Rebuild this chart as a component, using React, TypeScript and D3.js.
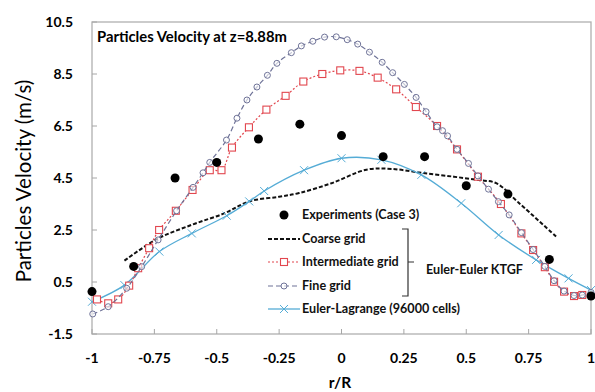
import React from 'react';
import * as d3 from 'd3';

// experiments (Case 3)
const expR = [-1, -0.833, -0.667, -0.5, -0.333, -0.167, 0, 0.167, 0.333, 0.5, 0.667, 0.833, 1];
const expV = [0.13, 1.1, 4.5, 5.1, 6.0, 6.57, 6.13, 5.32, 5.32, 4.2, 3.88, 1.37, -0.04];

// coarse grid (no markers)
const coarseR = [-0.87, -0.74, -0.6, -0.47, -0.37, -0.25, -0.17, -0.04, 0.1, 0.2, 0.32, 0.45, 0.55, 0.62, 0.71, 0.86];
const coarseV = [1.32, 2.15, 2.7, 3.14, 3.6, 3.78, 3.92, 4.3, 4.82, 4.85, 4.7, 4.55, 4.42, 4.3, 3.55, 2.25];

// intermediate grid
const interR = [-0.98, -0.935, -0.895, -0.851, -0.815, -0.771, -0.731, -0.664, -0.597, -0.528, -0.481, -0.439, -0.371,
  -0.301, -0.224, -0.153, -0.077, -0.005, 0.072, 0.145, 0.219, 0.298, 0.383, 0.463, 0.547, 0.639, 0.721, 0.768,
  0.815, 0.852, 0.892, 0.932, 0.965];
const interV = [-0.17, -0.32, -0.17, 0.36, 1.03, 1.8, 2.5, 3.24, 4.04, 4.8, 4.8, 5.67, 6.45,
  7.13, 7.66, 8.21, 8.5, 8.64, 8.62, 8.36, 7.91, 7.23, 6.5, 5.6, 4.55, 3.5, 2.37, 1.73,
  1.07, 0.51, 0.13, -0.04, 0.0];

// fine grid
const fineR = [-0.997, -0.935, -0.861, -0.801, -0.735, -0.661, -0.595, -0.555, -0.528, -0.461, -0.419, -0.379, -0.339,
  -0.297, -0.259, -0.201, -0.161, -0.115, -0.068, -0.021, 0.023, 0.065, 0.112, 0.163, 0.205, 0.252, 0.299, 0.339,
  0.383, 0.405, 0.425, 0.463, 0.509, 0.547, 0.589, 0.629, 0.672, 0.721, 0.768, 0.815, 0.852, 0.892, 0.932, 0.965, 1.0];
const fineV = [-0.73, -0.45, 0.26, 1.09, 2.12, 3.24, 4.14, 4.7, 5.1, 5.96, 6.8, 7.5, 8.0,
  8.45, 8.91, 9.32, 9.58, 9.76, 9.92, 9.93, 9.82, 9.65, 9.34, 8.95, 8.55, 8.1, 7.6, 7.05,
  6.47, 6.32, 6.12, 5.6, 5.06, 4.58, 4.07, 3.59, 3.08, 2.4, 1.75, 1.1, 0.55, 0.15, -0.02, 0.0, 0.1];

// Euler-Lagrange (96000 cells)
const elR = [-1, -0.87, -0.73, -0.6, -0.46, -0.37, -0.31, -0.15, 0, 0.16, 0.32, 0.48, 0.63, 0.78, 0.91, 1];
const elV = [-0.26, 0.38, 1.67, 2.37, 3.05, 3.6, 4.0, 4.8, 5.26, 5.2, 4.62, 3.53, 2.31, 1.35, 0.64, 0.19];

const xTicks = [-1, -0.75, -0.5, -0.25, 0, 0.25, 0.5, 0.75, 1];
const yTicks = [-1.5, 0.5, 2.5, 4.5, 6.5, 8.5, 10.5];

const FONT = 'Lato, "Open Sans", sans-serif';
const RED = '#e2474f';
const FINE = '#6f7398';
const BLUE = '#55acd6';

const zip = (xs: number[], ys: number[]) => xs.map((x, i) => [x, ys[i]] as [number, number]);

export default function App() {
  const x = d3.scaleLinear().domain([-1, 1]).range([92, 591]);
  const y = d3.scaleLinear().domain([-1.5, 10.5]).range([334, 22]);
  const line = d3.line<[number, number]>().x(d => x(d[0])).y(d => y(d[1])).curve(d3.curveCatmullRom);

  const inter = zip(interR, interV);
  const fine = zip(fineR, fineV);
  const el = zip(elR, elV);
  const exp = zip(expR, expV);

  const sq = (cx: number, cy: number, k: string) => (
    <rect key={k} x={cx - 3.5} y={cy - 3.5} width={7} height={7} fill="white" stroke={RED} strokeWidth={1.1} />
  );
  const circ = (cx: number, cy: number, k: string) => (
    <circle key={k} cx={cx} cy={cy} r={3} fill="white" fillOpacity={0.6} stroke={FINE} strokeWidth={1} />
  );
  const cross = (cx: number, cy: number, k: string) => (
    <path key={k} d={`M${cx - 4},${cy - 4}L${cx + 4},${cy + 4}M${cx - 4},${cy + 4}L${cx + 4},${cy - 4}`} stroke={BLUE} strokeWidth={1} />
  );

  return (
    <svg width={595} height={392} style={{ position: 'absolute', left: 0, top: 0, background: 'white' }}>
      <rect x={92} y={22} width={499} height={312} fill="white" stroke="#b0b0b0" strokeWidth={1.3} />
      {yTicks.map(t => (
        <g key={'y' + t}>
          <line x1={92} x2={97} y1={y(t)} y2={y(t)} stroke="#a6a6a6" />
          <text x={73} y={y(t)} dy="0.35em" textAnchor="end" fontFamily={FONT} fontWeight="bold" fontSize={14}>{t}</text>
        </g>
      ))}
      {xTicks.map(t => (
        <g key={'x' + t}>
          <line x1={x(t)} x2={x(t)} y1={334} y2={329} stroke="#a6a6a6" />
          <text x={x(t)} y={358} dy="0.35em" textAnchor="middle" fontFamily={FONT} fontWeight="bold" fontSize={14}>{t}</text>
        </g>
      ))}
      <text x={340} y={383} dy="0.35em" textAnchor="middle" fontFamily={FONT} fontWeight="bold" fontSize={15.5}>r/R</text>
      <text transform="translate(24,181) rotate(-90)" textAnchor="middle" dy="0.35em" fontFamily={FONT} fontSize={20.5}>Particles Velocity (m/s)</text>
      <text x={97} y={37} dy="0.35em" fontFamily={FONT} fontWeight="bold" fontSize={14.8}>Particles Velocity at z=8.88m</text>

      {/* series */}
      <path d={line(zip(coarseR, coarseV)) || ''} fill="none" stroke="#111" strokeWidth={2} strokeDasharray="4,2" />
      <path d={line(el) || ''} fill="none" stroke={BLUE} strokeWidth={1.3} />
      {el.map((d, i) => cross(x(d[0]), y(d[1]), 'e' + i))}
      <path d={line(inter) || ''} fill="none" stroke={RED} strokeWidth={1.2} strokeDasharray="2,2" />
      {inter.map((d, i) => sq(x(d[0]), y(d[1]), 's' + i))}
      <path d={line(fine) || ''} fill="none" stroke={FINE} strokeWidth={1.2} strokeDasharray="5,3" />
      {fine.map((d, i) => circ(x(d[0]), y(d[1]), 'c' + i))}
      {exp.map((d, i) => <circle key={'x' + i} cx={x(d[0])} cy={y(d[1])} r={4.5} fill="#000" />)}

      {/* legend */}
      <g fontFamily={FONT} fontWeight="bold" fontSize={12.6} fill="#111">
        <circle cx={284} cy={215} r={4.5} fill="#000" />
        <text x={302} y={215} dy="0.35em">Experiments (Case 3)</text>
        <line x1={268} x2={300} y1={239} y2={239} stroke="#111" strokeWidth={2} strokeDasharray="4,2" />
        <text x={302} y={239} dy="0.35em">Coarse grid</text>
        <line x1={268} x2={300} y1={262} y2={262} stroke={RED} strokeWidth={1.2} strokeDasharray="2,2" />
        {sq(284, 262, 'ls')}
        <text x={302} y={262} dy="0.35em">Intermediate grid</text>
        <line x1={268} x2={300} y1={286} y2={286} stroke={FINE} strokeWidth={1.2} strokeDasharray="5,3" />
        {circ(284, 286, 'lc')}
        <text x={302} y={286} dy="0.35em">Fine grid</text>
        <line x1={268} x2={300} y1={309} y2={309} stroke={BLUE} strokeWidth={1.3} />
        {cross(284, 309, 'lx')}
        <text x={302} y={309} dy="0.35em">Euler-Lagrange (96000 cells)</text>
        <path d="M402,229H408V296H402M408,262H414" fill="none" stroke="#333" strokeWidth={1.2} />
        <text x={426} y={270} dy="0.35em">Euler-Euler KTGF</text>
      </g>
    </svg>
  );
}
